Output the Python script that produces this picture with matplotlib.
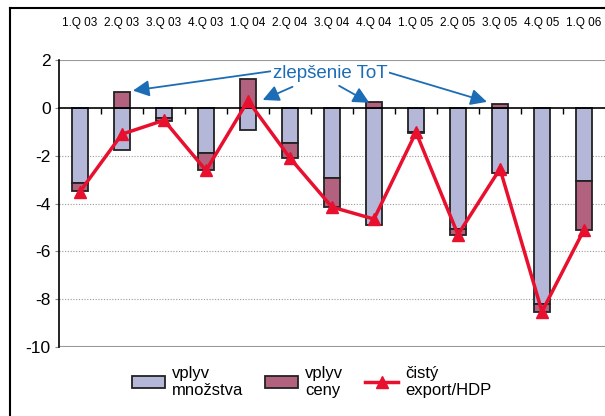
import matplotlib
matplotlib.use("Agg")
import matplotlib.pyplot as plt
from matplotlib.lines import Line2D
import numpy as np

plt.rcParams['font.family'] = ['Liberation Sans Narrow', 'Liberation Sans', 'DejaVu Sans']
plt.rcParams['axes.unicode_minus'] = False

quarters = ["1.Q 03", "2.Q 03", "3.Q 03", "4.Q 03", "1.Q 04", "2.Q 04", "3.Q 04",
            "4.Q 04", "1.Q 05", "2.Q 05", "3.Q 05", "4.Q 05", "1.Q 06"]
vplyv_mnozstva = [-3.15, -1.76, -0.43, -1.90, -0.92, -1.48, -2.94, -4.90, -1.02, -5.06, -2.73, -8.20, -3.08]
vplyv_ceny = [-0.32, 0.68, -0.11, -0.70, 1.21, -0.60, -1.19, 0.24, -0.02, -0.25, 0.17, -0.32, -2.02]
cisty_export = [-3.50, -1.10, -0.52, -2.62, 0.30, -2.10, -4.15, -4.65, -1.02, -5.30, -2.55, -8.52, -5.10]

annot_text = "zlepšenie ToT"
annot_targets = [(1.26, 0.72), (4.35, 0.33), (6.89, 0.21), (9.69, 0.25)]
annot_starts = [(4.63, 1.55), (5.06, 0.88), (6.17, 0.92), (7.31, 1.50)]

c_q = "#b5b7d8"
c_p = "#b2627e"
c_line = "#e8102e"
c_blue = "#1c6cb6"

fig = plt.figure(figsize=(6.05, 4.16), dpi=100)
ax = fig.add_axes([59/605, 1-347/416, 1-59/605, (347-60)/416])

x = np.arange(len(quarters))
q = np.array(vplyv_mnozstva)
p = np.array(vplyv_ceny)
bottom_p = np.where(p >= 0, 0, q)
w = 0.4
h1 = ax.bar(x, q, width=w, color=c_q, edgecolor="#222222", linewidth=1.3, zorder=3, label="vplyv\nmnožstva")
h2 = ax.bar(x, p, bottom=bottom_p, width=w, color=c_p, edgecolor="#222222", linewidth=1.3, zorder=3, label="vplyv\nceny")
h3, = ax.plot(x, cisty_export, color=c_line, linewidth=2.5, marker="^", markersize=9, zorder=5,
              label="čistý\nexport/HDP")

ax.set_xlim(-0.5, len(quarters)-0.5)
ax.set_ylim(-10, 2)
ax.set_yticks(range(-10, 3, 2))
ax.tick_params(axis='y', labelsize=12.5, length=3, color="#888888", pad=3)
for v in [-2, -4, -6, -8]:
    ax.axhline(v, color="#999999", linestyle=(0, (1, 1.5)), linewidth=0.8, zorder=1)
ax.axhline(-10, color="#999999", linewidth=1.5, zorder=1)
ax.axhline(2, color="#999999", linewidth=1.5, zorder=1)

# bottom spine at zero with boundary ticks
ax.spines['bottom'].set_position(('data', 0))
ax.spines['bottom'].set_zorder(4)
ax.spines['bottom'].set_linewidth(1.2)
ax.set_xticks(np.arange(0.5, len(quarters)-0.5, 1))
ax.tick_params(axis='x', direction='out', length=4, width=1, labelbottom=False)
ax.spines['top'].set_visible(False)
ax.spines['right'].set_visible(False)
ax.spines['left'].set_linewidth(1.2)

sec = ax.secondary_xaxis('top')
sec.set_xticks(x)
sec.set_xticklabels(quarters, fontsize=8.5)
sec.tick_params(length=0, pad=22)
sec.spines['top'].set_visible(False)

# annotation
ax.text(5.95, 1.45, annot_text, color=c_blue, fontsize=13.5, ha='center', va='center', zorder=7,
        bbox=dict(facecolor='white', edgecolor='none', pad=1))
for (sx, sy), (tx, ty) in zip(annot_starts, annot_targets):
    ax.annotate("", xy=(tx, ty), xytext=(sx, sy),
                arrowprops=dict(arrowstyle='-|>,head_length=0.7,head_width=0.35', color=c_blue,
                                lw=1.3, mutation_scale=14, shrinkA=0, shrinkB=0), zorder=6)

fig.legend(handles=[h1, h2, h3], loc='center', bbox_to_anchor=(0.515, 0.082), ncol=3, frameon=False,
           fontsize=12, handlelength=2.0, handleheight=0.7, columnspacing=1.3, labelspacing=0.2,
           handletextpad=0.4)

fig.add_artist(Line2D([10/605, 10/605], [0, 1-8/416], transform=fig.transFigure, color='black', lw=1.5))
fig.add_artist(Line2D([10/605, 1], [1-8/416, 1-8/416], transform=fig.transFigure, color='black', lw=1.5))

fig.savefig("out.png", dpi=100)
